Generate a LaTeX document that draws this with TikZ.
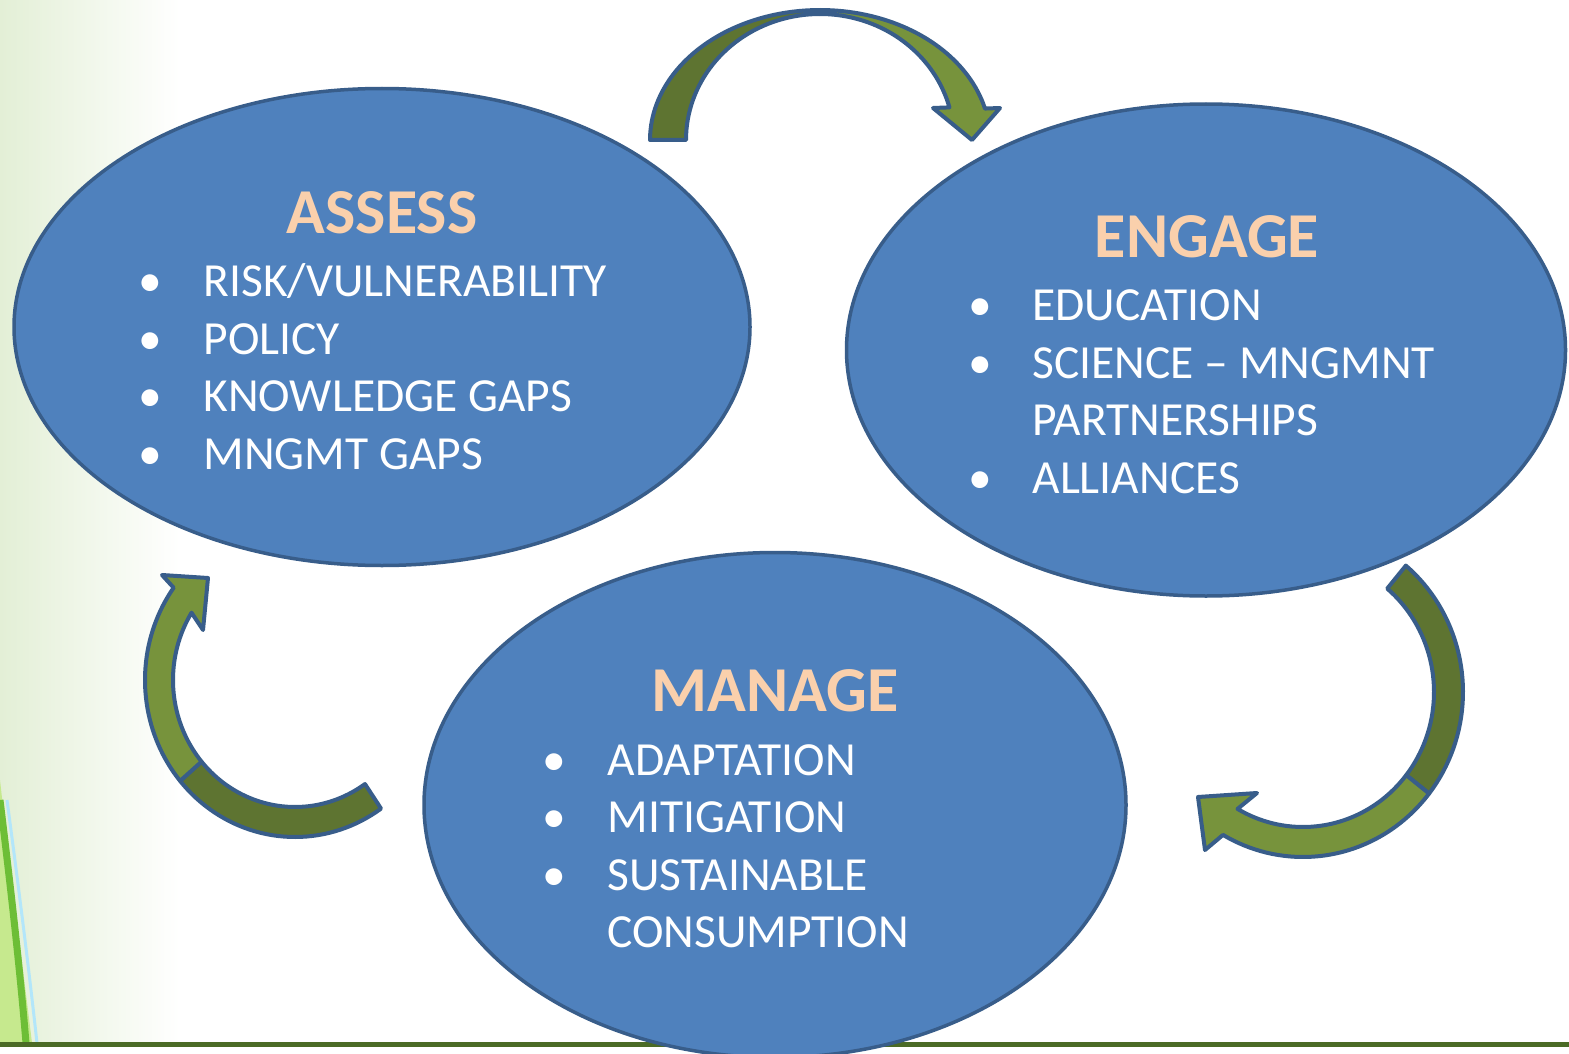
\documentclass[tikz,border=0pt]{standalone}
\usepackage{fontspec}
\setmainfont{Carlito}
\usetikzlibrary{shapes.geometric}

\definecolor{blobfill}{HTML}{4F81BD}
\definecolor{blobline}{HTML}{385D8A}
\definecolor{peach}{HTML}{FAD0AC}
\definecolor{arrowdark}{HTML}{5E7431}
\definecolor{arrowlight}{HTML}{77933C}
\definecolor{leafpale}{HTML}{E3EFD6}
\definecolor{leafgreen}{HTML}{6DBE36}
\definecolor{leaflight}{HTML}{C6E98E}
\definecolor{rulegreen}{HTML}{4B6B26}

\begin{document}
\begin{tikzpicture}[x=1pt,y=-1pt]
		\tikzset{blob/.style = {ellipse, draw=blobline, fill=blobfill, line width=3.5pt, inner sep=0pt}}
		\tikzset{heading/.style = {anchor=base, text=peach, font=\fontsize{64}{72}\selectfont\bfseries}}
		\tikzset{item/.style = {anchor=base west, text=white, font=\fontsize{47.5}{57}\selectfont}}
		\tikzset{dot/.style = {anchor=base, text=white, font=\fontsize{47.5}{57}\selectfont}}
		\tikzset{band/.style = {draw=blobline, line width=4pt, line join=round}}
		
		\useasboundingbox (0,0) rectangle (1569,1054);
		\clip (0,0) rectangle (1569,1054);
		
		% backdrop
		\fill[white] (0,0) rectangle (1569,1054);
		\shade[left color=leafpale, right color=white] (0,0) rectangle (180,1043);
		\fill[leaflight] (0,780) .. controls (10,870) and (22,960) .. (32,1043) -- (0,1043) -- cycle;
		\draw[line width=7pt, leafgreen] (0,800) .. controls (11,890) and (20,970) .. (26,1043);
		\draw[line width=3pt, cyan!30] (7,800) .. controls (19,890) and (29,970) .. (37,1043);
		\fill[rulegreen] (0,1042) rectangle (1569,1047);
		
		\node[blob, minimum width=736pt, minimum height=477pt]  (assess) at ( 382,  327) {};
		\node[blob, minimum width=719pt, minimum height=492pt]  (engage) at (1206,  350) {};
		\node[blob, minimum width=702pt, minimum height=505pt]  (manage) at ( 775,  805) {};
		
		\node[heading] (assesshead) at ( 382,  233) {ASSESS};
		\node[dot]     (ad1)        at ( 150,  296) {•};
		\node[dot]     (ad2)        at ( 150,  354) {•};
		\node[dot]     (ad3)        at ( 150,  411) {•};
		\node[dot]     (ad4)        at ( 150,  469) {•};
		\node[item]    (a1)         at ( 200,  296) {RISK/VULNERABILITY};
		\node[item]    (a2)         at ( 200,  354) {POLICY};
		\node[item]    (a3)         at ( 200,  411) {KNOWLEDGE GAPS};
		\node[item]    (a4)         at ( 200,  469) {MNGMT GAPS};
		
		\node[heading] (engagehead) at (1207,  257) {ENGAGE};
		\node[dot]     (ed1)        at ( 980,  320) {•};
		\node[dot]     (ed2)        at ( 980,  378) {•};
		\node[dot]     (ed4)        at ( 980,  493) {•};
		\node[item]    (e1)         at (1029,  320) {EDUCATION};
		\node[item]    (e2)         at (1029,  378) {SCIENCE – MNGMNT};
		\node[item]    (e3)         at (1029,  435) {PARTNERSHIPS};
		\node[item]    (e4)         at (1029,  493) {ALLIANCES};
		
		\node[heading] (managehead) at ( 775,  711) {MANAGE};
		\node[dot]     (md1)        at ( 554,  775) {•};
		\node[dot]     (md2)        at ( 554,  832) {•};
		\node[dot]     (md3)        at ( 554,  890) {•};
		\node[item]    (m1)         at ( 604,  775) {ADAPTATION};
		\node[item]    (m2)         at ( 604,  832) {MITIGATION};
		\node[item]    (m3)         at ( 604,  890) {SUSTAINABLE};
		\node[item]    (m4)         at ( 604,  947) {CONSUMPTION};
		
		% assess -> engage
		\filldraw[band, fill=arrowdark] plot[domain=180:270, samples=40] ({820+170*cos(\x)},{140+130*sin(\x)})
			-- plot[domain=270:180, samples=40] ({820+134*cos(\x)},{140+126*sin(\x)}) -- cycle;
		\filldraw[band, fill=arrowlight] plot[domain=270:346, samples=40] ({820+170*cos(\x)},{140+130*sin(\x)})
			-- (1000,108) -- (972,140) -- (933,108)
			-- plot[domain=345:270, samples=40] ({820+134*cos(\x)},{140+126*sin(\x)}) -- cycle;
		
		% engage -> manage
		\filldraw[band, fill=arrowdark] plot[domain=-50:38, samples=40] ({1303+160*cos(\x)},{692+165*sin(\x)})
			-- plot[domain=38:-50, samples=40] ({1303+131*cos(\x)},{692+135*sin(\x)}) -- cycle;
		\filldraw[band, fill=arrowlight] plot[domain=38:120, samples=40] ({1303+160*cos(\x)},{692+165*sin(\x)})
			-- (1205,850) -- (1198,797) -- (1257,793)
			-- plot[domain=120:38, samples=40] ({1303+131*cos(\x)},{692+135*sin(\x)}) -- cycle;
		
		% manage -> assess
		\filldraw[band, fill=arrowdark] plot[domain=55:140, samples=40] ({295+150*cos(\x)},{680+157*sin(\x)})
			-- plot[domain=140:55, samples=40] ({295+122*cos(\x)},{680+127*sin(\x)}) -- cycle;
		\filldraw[band, fill=arrowlight] plot[domain=140:216, samples=40] ({295+150*cos(\x)},{680+157*sin(\x)})
			-- (162,575) -- (208,578) -- (203,630)
			-- plot[domain=212:140, samples=40] ({295+122*cos(\x)},{680+127*sin(\x)}) -- cycle;
\end{tikzpicture}
\end{document}
